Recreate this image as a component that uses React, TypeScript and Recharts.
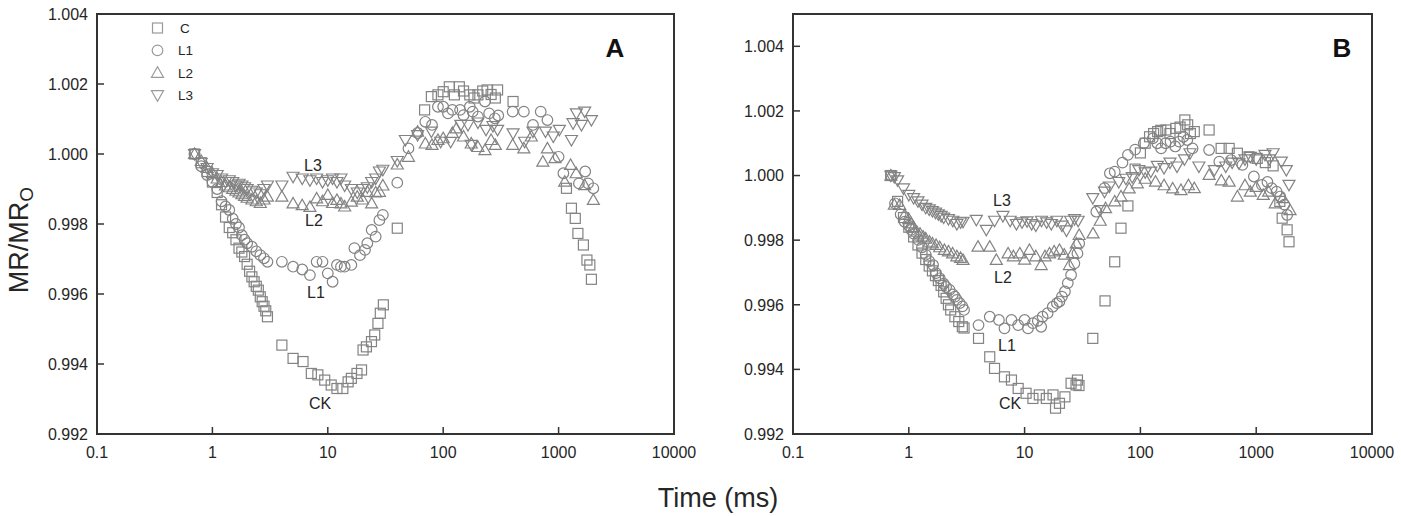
import React from 'react';
import { ScatterChart, Scatter, XAxis, YAxis, ReferenceArea, Legend } from 'recharts';

type Pt = [number, number];

const timeTicks = [0.1, 1, 10, 100, 1000, 10000];
const ratioTicks = [0.992, 0.994, 0.996, 0.998, 1.0, 1.002, 1.004];
const seriesNames = ['C', 'L1', 'L2', 'L3'];

// panel A
const aC: Pt[] = [
  [0.7, 1.0], [0.8, 0.99975], [0.9, 0.9995], [1.0, 0.9992], [1.1, 0.9989], [1.2, 0.99855], [1.3, 0.9982],
  [1.4, 0.9979], [1.5, 0.99775], [1.6, 0.99755], [1.7, 0.99731], [1.8, 0.9972], [1.9, 0.99707], [2.0, 0.99685],
  [2.1, 0.99665], [2.2, 0.99649], [2.3, 0.99635], [2.4, 0.99622], [2.5, 0.99611], [2.6, 0.99592], [2.7, 0.99578],
  [2.8, 0.99565], [2.9, 0.99552], [3.0, 0.99535],
  [4, 0.99454], [5, 0.99416], [6.1, 0.99407], [7.2, 0.99373], [8.2, 0.99369], [9.4, 0.99354], [10.7, 0.9934],
  [12, 0.9933], [13.5, 0.9933], [15, 0.99349], [16, 0.99359], [17.9, 0.99373], [19.6, 0.99383], [20.2, 0.9944],
  [21.6, 0.99449], [23.9, 0.99464], [25.5, 0.99483], [27.2, 0.99516], [28.5, 0.99545], [30.3, 0.99569], [40, 0.99788],
  [69, 1.00126], [79, 1.00164], [90, 1.00169], [100, 1.00178], [113, 1.00192], [125, 1.00169], [138, 1.00192],
  [150, 1.0018], [170, 1.00169], [185, 1.0016], [200, 1.00169], [220, 1.0018], [240, 1.00183], [260, 1.0017],
  [283, 1.0016], [296, 1.00183], [403, 1.0015],
  [1170, 0.99902], [1292, 0.99845], [1395, 0.99816], [1470, 0.99773], [1640, 0.9974], [1760, 0.99697],
  [1865, 0.99683], [1925, 0.99642],
];
const aL1: Pt[] = [
  [0.7, 1.0], [0.8, 0.99965], [0.9, 0.9994], [1.0, 0.9992], [1.1, 0.999], [1.2, 0.99865], [1.3, 0.9985],
  [1.4, 0.9984], [1.5, 0.99815], [1.6, 0.998], [1.7, 0.9979], [1.8, 0.99768], [1.9, 0.99755], [2.0, 0.99745],
  [2.2, 0.99735], [2.4, 0.99722], [2.6, 0.99711], [2.8, 0.99702], [3.0, 0.99692],
  [4, 0.99692], [5, 0.99678], [6, 0.9967], [7, 0.99654], [8, 0.99692], [9, 0.99692], [10, 0.99659], [11, 0.99635],
  [12, 0.99683], [13, 0.99678], [14, 0.99678], [16, 0.99683], [17, 0.99731], [19, 0.99711], [21, 0.99726],
  [22, 0.99745], [24, 0.99783], [26, 0.99764], [28, 0.99811], [30, 0.99826], [40, 0.99918],
  [50, 1.00016], [60, 1.0006], [70, 1.00092], [80, 1.00083], [90, 1.00135], [100, 1.00135], [110, 1.00116],
  [120, 1.00126], [140, 1.00126], [150, 1.00111], [170, 1.00135], [180, 1.00121], [200, 1.00107], [230, 1.0015],
  [250, 1.00116], [280, 1.00102], [300, 1.0011], [400, 1.00121], [500, 1.00121], [600, 1.00083], [700, 1.00121],
  [800, 1.00097], [1000, 0.99992], [1100, 0.99945], [1500, 0.99916], [1700, 0.9995], [1800, 0.99916], [2000, 0.99902],
];
const aL2: Pt[] = [
  [0.7, 1.0], [0.8, 0.9998], [0.9, 0.9996], [1.0, 0.99945], [1.1, 0.9993], [1.2, 0.9992], [1.3, 0.9991],
  [1.4, 0.99905], [1.5, 0.999], [1.6, 0.99895], [1.7, 0.9989], [1.8, 0.99885], [1.9, 0.9988], [2.0, 0.99875],
  [2.2, 0.9987], [2.4, 0.99865], [2.6, 0.9986], [2.8, 0.9987], [3.0, 0.99878],
  [4, 0.99878], [5, 0.99859], [6, 0.99854], [7, 0.99849], [8, 0.99873], [9, 0.99865], [10, 0.99883], [11, 0.9986],
  [12, 0.99869], [13, 0.99859], [14, 0.9985], [16, 0.99864], [18, 0.99878], [20, 0.9987], [22, 0.99892],
  [24, 0.99859], [26, 0.9989], [28, 0.99892], [30, 0.9991], [40, 0.9997],
  [50, 0.99992], [60, 1.00064], [70, 1.0003], [80, 1.00026], [90, 1.0004], [100, 1.00045], [120, 1.0006],
  [130, 1.00073], [150, 1.0005], [175, 1.0003], [200, 1.0002], [230, 1.00011], [260, 1.0004], [283, 1.00026],
  [400, 1.00026], [500, 1.00016], [580, 1.0005], [730, 0.99978], [800, 1.00016], [930, 0.99988], [1130, 0.99921],
  [1270, 0.99969], [1420, 0.99945], [1680, 0.99911], [2000, 0.99869],
];
const aL3: Pt[] = [
  [0.7, 1.0], [0.8, 0.99975], [0.9, 0.9996], [1.0, 0.99945], [1.1, 0.9994], [1.2, 0.9993], [1.3, 0.9992],
  [1.4, 0.99925], [1.5, 0.9992], [1.6, 0.9991], [1.7, 0.99915], [1.8, 0.9991], [1.9, 0.99905], [2.0, 0.999],
  [2.2, 0.99895], [2.4, 0.9989], [2.6, 0.99885], [2.8, 0.999], [3.0, 0.9991],
  [4, 0.9991], [5, 0.99935], [6, 0.9993], [7, 0.99925], [8, 0.9993], [9, 0.9992], [10, 0.99925], [11, 0.9993],
  [12, 0.9992], [13, 0.9993], [14, 0.9991], [16, 0.999], [18, 0.9989], [20, 0.999], [22, 0.99905], [24, 0.9992],
  [26, 0.9993], [28, 0.9995], [30, 0.99955], [40, 0.9998],
  [47, 1.0004], [60, 1.00054], [79, 1.00064], [95, 1.00035], [116, 1.00035], [142, 1.00083], [164, 1.00083],
  [175, 1.00026], [200, 1.0009], [235, 1.00069], [270, 1.0008], [296, 1.00069], [403, 1.00059], [508, 1.00035],
  [600, 1.00064], [770, 1.00064], [900, 1.0005], [1015, 1.00069], [1292, 1.0004], [1334, 1.00088], [1426, 1.00116],
  [1578, 1.00083], [1683, 1.00121], [1925, 1.00097],
];

// panel B
const bC: Pt[] = [
  [0.7, 1.0], [0.8, 0.9992], [0.9, 0.9987], [1.0, 0.9984], [1.1, 0.9981], [1.2, 0.99785], [1.3, 0.9976],
  [1.4, 0.9974], [1.5, 0.9972], [1.6, 0.99705], [1.7, 0.9969], [1.8, 0.99675], [1.9, 0.9966], [2.0, 0.9964],
  [2.1, 0.9962], [2.2, 0.996], [2.3, 0.99584], [2.5, 0.99563], [2.7, 0.99548], [2.9, 0.99532], [3.0, 0.99528],
  [4, 0.99496], [5, 0.99439], [5.5, 0.99403], [6.7, 0.99377], [7.7, 0.99367], [8.8, 0.99341], [10.3, 0.99326],
  [11.8, 0.9931], [13.4, 0.99321], [15.4, 0.9931], [17.6, 0.99321], [18.5, 0.9928], [20, 0.99295], [22.3, 0.99315],
  [25.2, 0.99357], [27.8, 0.99352], [28.6, 0.99367], [29.5, 0.9935],
  [38.8, 0.99496], [49.5, 0.99612], [60, 0.99733], [68, 0.99837], [78, 0.99906], [90, 1.0002], [100, 1.0007],
  [110, 1.001], [120, 1.0012], [130, 1.0013], [141, 1.00136], [150, 1.0014], [166, 1.00141], [180, 1.0013],
  [202, 1.00146], [220, 1.0015], [242, 1.00172], [256, 1.00157], [270, 1.0013], [292, 1.00136], [392, 1.00141],
  [498, 1.00084], [584, 1.00084], [688, 1.00069], [868, 1.00058], [1020, 1.00053], [1200, 1.0004], [1400, 1.0003],
  [1600, 0.9992], [1676, 0.99868], [1850, 0.99832], [1920, 0.99795],
];
const bL1: Pt[] = [
  [0.7, 1.0], [0.76, 0.99914], [0.85, 0.9988], [0.92, 0.99857], [1.0, 0.99845], [1.05, 0.99832], [1.1, 0.9982],
  [1.21, 0.99801], [1.3, 0.99778], [1.4, 0.99755], [1.5, 0.99735], [1.62, 0.99723], [1.72, 0.99698], [1.85, 0.99682],
  [2.0, 0.99665], [2.1, 0.99655], [2.25, 0.99646], [2.4, 0.99632], [2.5, 0.99625], [2.6, 0.99615], [2.75, 0.99605],
  [2.9, 0.99595], [3.0, 0.99584],
  [4, 0.99537], [5, 0.99563], [6, 0.99553], [6.7, 0.99527], [7.7, 0.99553], [8.8, 0.99537], [10, 0.99553],
  [10.7, 0.99527], [11.8, 0.99543], [13, 0.9955], [13.9, 0.99532], [14.3, 0.99563], [15.8, 0.99574], [17.5, 0.99594],
  [19, 0.99605], [20, 0.9961], [21, 0.99625], [22.3, 0.99641], [23.6, 0.99667], [25.2, 0.99692], [26.9, 0.99728],
  [28.6, 0.99759], [29.6, 0.9979],
  [41.6, 0.99888], [49, 0.99961], [54.5, 1.00007], [60, 1.00012], [70, 1.0004], [78, 1.00064], [90, 1.0008],
  [107, 1.001], [128, 1.00115], [140, 1.001], [151, 1.00084], [165, 1.001], [182, 1.00105], [200, 1.0009],
  [216, 1.00105], [235, 1.0012], [254, 1.0011], [282, 1.00084], [392, 1.00079], [480, 1.00043], [607, 1.00048],
  [760, 1.00033], [955, 0.99997], [1120, 0.99971], [1250, 0.9998], [1360, 0.99961], [1500, 0.9995], [1610, 0.99935],
  [1750, 0.9991], [1850, 0.99878],
];
const bL2: Pt[] = [
  [0.7, 1.0], [0.75, 0.9991], [0.835, 0.99909], [0.92, 0.99878], [1.0, 0.99865], [1.05, 0.99852], [1.1, 0.9984],
  [1.17, 0.99826], [1.25, 0.9982], [1.33, 0.99811], [1.4, 0.99805], [1.51, 0.99795], [1.6, 0.9979], [1.72, 0.99785],
  [1.85, 0.99778], [2.03, 0.9977], [2.2, 0.99765], [2.39, 0.99759], [2.6, 0.9975], [2.8, 0.99745], [2.94, 0.99739],
  [3.96, 0.9978], [5, 0.9978], [5.7, 0.99739], [7.2, 0.99759], [8, 0.9975], [9.1, 0.99759], [10, 0.9974], [11, 0.9977],
  [12.5, 0.9975], [13.9, 0.99723], [15, 0.9975], [16.4, 0.99759], [18, 0.99765], [20, 0.9977], [22, 0.99755],
  [24.4, 0.99723], [26, 0.9976], [28, 0.9979], [29.6, 0.99816],
  [39, 0.99821], [45, 0.9986], [50, 0.99899], [60, 0.9992], [68, 0.99935], [80, 0.9996], [94, 0.99976], [110, 0.9999],
  [135, 0.99981], [160, 0.9997], [190, 0.9996], [224, 0.99955], [260, 0.9997], [292, 0.99961], [392, 1.00002],
  [500, 0.99985], [584, 0.99981], [688, 0.99935], [800, 0.9997], [890, 0.9995], [1000, 0.99965], [1150, 0.9994],
  [1280, 0.9995], [1460, 0.99914], [1700, 0.9993], [1960, 0.99893],
];
const bL3: Pt[] = [
  [0.7, 1.0], [0.75, 0.99995], [0.8, 0.99985], [0.9, 0.9996], [1.0, 0.9994], [1.1, 0.9993], [1.2, 0.9992],
  [1.3, 0.9991], [1.4, 0.999], [1.5, 0.99895], [1.6, 0.9989], [1.7, 0.99885], [1.8, 0.9988], [1.9, 0.99875],
  [2.0, 0.9987], [2.2, 0.99865], [2.4, 0.9986], [2.6, 0.9985], [2.8, 0.99855], [2.94, 0.99857],
  [3.83, 0.99863], [4.67, 0.99832], [5.5, 0.9986], [6.5, 0.99875], [7.5, 0.9986], [8.5, 0.9985], [9.5, 0.99855],
  [10.5, 0.99858], [11.5, 0.9985], [12.5, 0.99845], [14, 0.9986], [15.5, 0.99855], [17, 0.9985], [19, 0.9986],
  [21, 0.99845], [23, 0.9983], [25, 0.9986], [27, 0.99865], [29, 0.9986],
  [38.8, 0.9993], [45, 0.99893], [49, 0.9995], [54, 0.99966], [65, 0.9998], [75, 0.9999], [85, 0.99995],
  [97, 1.00017], [110, 1.0001], [123, 1.00012], [140, 1.0003], [160, 1.00023], [180, 1.0004], [207, 1.00028],
  [240, 1.0005], [268, 1.00069], [320, 1.00028], [435, 1.00017], [546, 1.00028], [620, 1.0004], [710, 1.00038],
  [800, 1.0005], [890, 1.00058], [1000, 1.0005], [1190, 1.00064], [1300, 1.0005], [1400, 1.00069], [1650, 1.00043],
  [1820, 1.00017], [1920, 0.99971],
];

const FONT = '"Liberation Sans", Arial, Helvetica, sans-serif';
const MARK = '#838383';
const AXIS = '#333333';
const TXT = '#262626';

const toRows = (pts: Pt[]) => pts.map(([t, v]) => ({ t, v }));

const Square = ({ cx = 0, cy = 0, color = MARK }: any) => (
  <rect x={cx - 5} y={cy - 5} width={10} height={10} fill="none" stroke={color} strokeWidth={1.2} />
);
const Circle = ({ cx = 0, cy = 0, color = MARK }: any) => (
  <circle cx={cx} cy={cy} r={5.3} fill="none" stroke={color} strokeWidth={1.2} />
);
const TriUp = ({ cx = 0, cy = 0, color = MARK }: any) => (
  <polygon points={`${cx - 6},${cy + 4.5} ${cx + 6},${cy + 4.5} ${cx},${cy - 6}`} fill="none" stroke={color} strokeWidth={1.2} />
);
const TriDown = ({ cx = 0, cy = 0, color = MARK }: any) => (
  <polygon points={`${cx - 6},${cy - 4.5} ${cx + 6},${cy - 4.5} ${cx},${cy + 6}`} fill="none" stroke={color} strokeWidth={1.2} />
);
const shapes = [Square, Circle, TriUp, TriDown];

const fmtTime = (v: number) => (v < 1 ? String(v) : String(Math.round(v)));

const XTick = (props: any) => {
  const { x, y, payload } = props;
  const edge = payload.value === 0.1 || payload.value === 10000;
  return (
    <g>
      {!edge && <line x1={x} x2={x} y1={y} y2={y - 7} stroke={AXIS} strokeWidth={1.5} />}
      <text x={x} y={y + 24} textAnchor="middle" fontSize={16} fontFamily={FONT} fill={TXT}>
        {fmtTime(payload.value)}
      </text>
    </g>
  );
};

const YTick = (props: any) => {
  const { x, y, payload } = props;
  return (
    <g>
      <line x1={x} x2={x + 7} y1={y} y2={y} stroke={AXIS} strokeWidth={1.5} />
      <text x={x - 9} y={y} dy="0.36em" textAnchor="end" fontSize={16} fontFamily={FONT} fill={TXT}>
        {payload.value.toFixed(3)}
      </text>
    </g>
  );
};

const LegendBox = () => (
  <svg width={60} height={92}>
    {seriesNames.map((name, i) => {
      const Shape = shapes[i];
      const cy = 11 + i * 22.4;
      return (
        <g key={name}>
          <Shape cx={12.5} cy={cy} color="#9a9a9a" />
          <text x={name === 'C' ? 35 : 33} y={cy + 5} fontSize={13.5} fontFamily={FONT} fill={TXT}>{name}</text>
        </g>
      );
    })}
  </svg>
);

interface Note { text: string; x: number; y: number }

interface PanelProps {
  left: number;
  width: number;
  marginLeft: number;
  marginRight: number;
  yMax: number;
  data: Pt[][];
  tag: string;
  tagX: number;
  notes: Note[];
  legend?: boolean;
}

const Panel = ({ left, width, marginLeft, marginRight, yMax, data, tag, tagX, notes, legend }: PanelProps) => (
  <div style={{ position: 'absolute', left, top: 0, width, height: 470 }}>
    <ScatterChart width={width} height={470} margin={{ top: 14, right: marginRight, bottom: 6, left: marginLeft }}>
      <XAxis
        dataKey="t"
        type="number"
        scale="log"
        domain={[0.1, 10000]}
        ticks={timeTicks}
        interval={0}
        allowDataOverflow
        axisLine={false}
        tickLine={false}
        tickSize={0}
        tickMargin={0}
        height={30}
        tick={<XTick />}
      />
      <YAxis
        dataKey="v"
        type="number"
        domain={[0.992, yMax]}
        ticks={ratioTicks}
        interval={0}
        allowDataOverflow
        axisLine={false}
        tickLine={false}
        tickSize={0}
        tickMargin={0}
        width={60}
        tick={<YTick />}
      />
      <ReferenceArea x1={0.1} x2={10000} y1={0.992} y2={yMax} fill="none" stroke={AXIS} strokeWidth={2} ifOverflow="visible" />
      {data.map((pts, i) => {
        const Shape = shapes[i];
        return (
          <Scatter
            key={seriesNames[i]}
            name={seriesNames[i]}
            data={toRows(pts)}
            shape={(p: any) => <Shape cx={p.cx} cy={p.cy} />}
            isAnimationActive={false}
          />
        );
      })}
      {legend && (
        <Legend
          layout="vertical"
          align="center"
          verticalAlign="middle"
          wrapperStyle={{ left: 145, top: 17, width: 60, height: 92 }}
          content={() => <LegendBox />}
        />
      )}
    </ScatterChart>
    <div style={{ position: 'absolute', left: tagX - 20, top: 34, width: 40, textAlign: 'center', fontFamily: FONT, fontWeight: 'bold', fontSize: 26, lineHeight: '28px', color: '#111' }}>
      {tag}
    </div>
    {notes.map((n) => (
      <div
        key={n.text}
        style={{ position: 'absolute', left: n.x - 20, top: n.y - 10, width: 40, textAlign: 'center', fontFamily: FONT, fontSize: 16, lineHeight: '20px', color: TXT }}
      >
        {n.text}
      </div>
    ))}
  </div>
);

const notesA: Note[] = [
  { text: 'L3', x: 313, y: 166 },
  { text: 'L2', x: 314, y: 221 },
  { text: 'L1', x: 316, y: 293 },
  { text: 'CK', x: 320, y: 404 },
];
const notesB: Note[] = [
  { text: 'L3', x: 1002 - 700, y: 201 },
  { text: 'L2', x: 1003 - 700, y: 278 },
  { text: 'L1', x: 1007 - 700, y: 346 },
  { text: 'CK', x: 1010 - 700, y: 404 },
];

export default function App() {
  return (
    <div style={{ position: 'absolute', left: 0, top: 0, width: 1401, height: 516, background: '#ffffff', overflow: 'hidden' }}>
      <Panel
        left={0}
        width={700}
        marginLeft={37}
        marginRight={26}
        yMax={1.004}
        data={[aC, aL1, aL2, aL3]}
        tag="A"
        tagX={615}
        notes={notesA}
        legend
      />
      <Panel
        left={700}
        width={701}
        marginLeft={33}
        marginRight={29}
        yMax={1.005}
        data={[bC, bL1, bL2, bL3]}
        tag="B"
        tagX={642}
        notes={notesB}
      />
      <div
        style={{
          position: 'absolute', left: 21, top: 240, transform: 'translate(-50%, -50%) rotate(-90deg)',
          fontFamily: FONT, fontSize: 27, color: TXT, whiteSpace: 'nowrap',
        }}
      >
        MR/MR<sub style={{ fontSize: 19, verticalAlign: '-0.3em' }}>O</sub>
      </div>
      <div
        style={{
          position: 'absolute', left: 618, top: 482, width: 200, textAlign: 'center',
          fontFamily: FONT, fontSize: 27, lineHeight: '32px', color: TXT,
        }}
      >
        Time (ms)
      </div>
    </div>
  );
}
